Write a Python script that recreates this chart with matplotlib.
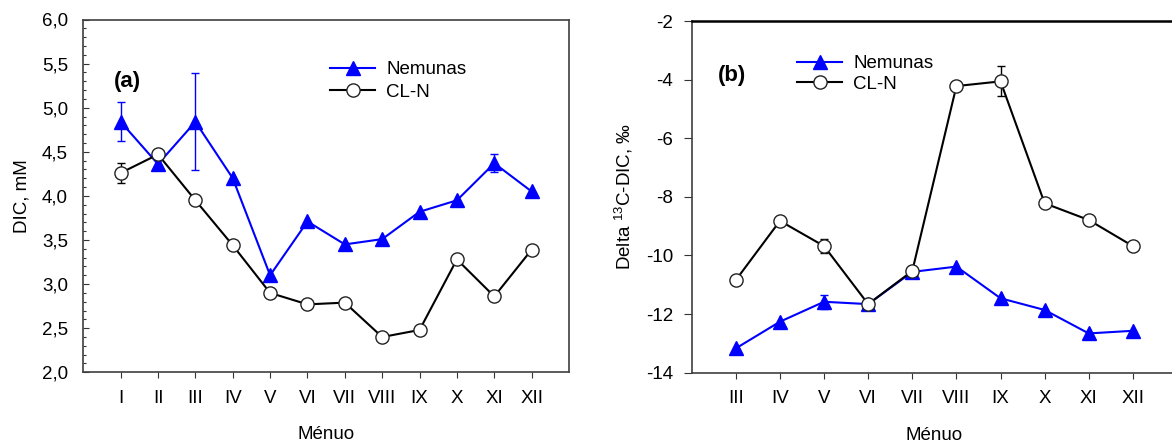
import matplotlib
matplotlib.use("Agg")
import matplotlib.pyplot as plt
from matplotlib.ticker import MultipleLocator, FixedLocator
from matplotlib.lines import Line2D

plt.rcParams['font.family'] = ['Liberation Sans', 'DejaVu Sans']
plt.rcParams['mathtext.fontset'] = 'custom'
plt.rcParams['mathtext.rm'] = 'Liberation Sans'
plt.rcParams['mathtext.it'] = 'Liberation Sans:italic'
plt.rcParams['mathtext.bf'] = 'Liberation Sans:bold'
plt.rcParams['axes.unicode_minus'] = False

# ---------------- data ----------------
roman = ["I", "II", "III", "IV", "V", "VI", "VII", "VIII", "IX", "X", "XI", "XII"]

months_a = list(range(1, 13))
dic_nemunas = [4.84, 4.36, 4.84, 4.20, 3.10, 3.71, 3.45, 3.51, 3.82, 3.95, 4.37, 4.05]
dic_nemunas_err = [0.22, 0.0, 0.55, 0.0, 0.0, 0.0, 0.0, 0.0, 0.0, 0.0, 0.10, 0.0]
dic_cln = [4.26, 4.47, 3.95, 3.44, 2.90, 2.77, 2.79, 2.40, 2.48, 3.28, 2.86, 3.39]
dic_cln_err = [0.11, 0.0, 0.0, 0.0, 0.0, 0.0, 0.0, 0.0, 0.0, 0.0, 0.0, 0.0]

months_b = list(range(3, 13))
d13_nemunas = [-13.17, -12.26, -11.58, -11.66, -10.56, -10.38, -11.46, -11.86, -12.66, -12.57]
d13_nemunas_err = [0.0, 0.0, 0.23, 0.0, 0.0, 0.0, 0.0, 0.0, 0.0, 0.0]
d13_cln = [-10.84, -8.82, -9.68, -11.66, -10.53, -4.22, -4.06, -8.22, -8.79, -9.68]
d13_cln_err = [0.0, 0.0, 0.25, 0.0, 0.0, 0.0, 0.51, 0.0, 0.0, 0.0]

labels = ["Nemunas", "CL-N"]

# ---------------- figure ----------------
W, H = 1172, 443
fig = plt.figure(figsize=(W / 100, H / 100), dpi=100)

def px_axes(l, t, r, b):
    return fig.add_axes([l / W, 1 - b / H, (r - l) / W, (b - t) / H])

FS = 13.5
BLUE = '#0000ff'
NEM_STYLE = dict(color=BLUE, lw=1.5, marker='^', ms=10.5, mfc=BLUE, mec=BLUE)
CLN_STYLE = dict(color='black', lw=1.5, marker='o', ms=9.5, mfc='white',
                 mec='#222222', mew=1.0)

axa = px_axes(83.3, 19.5, 569, 372.3)
axb = px_axes(691.7, 21, 1177, 372.7)


def errs(ax, x, y, e, color, z):
    idx = [i for i, v in enumerate(e) if v > 0]
    ax.errorbar([x[i] for i in idx], [y[i] for i in idx], yerr=[e[i] for i in idx],
                fmt='none', ecolor=color, elinewidth=1.0, capsize=3,
                capthick=1.0, zorder=z)


def draw(ax, x, yn, en, yc, ec):
    errs(ax, x, yn, en, BLUE, 2)
    ax.plot(x, yn, zorder=3, **NEM_STYLE)
    errs(ax, x, yc, ec, 'black', 3.5)
    ax.plot(x, yc, zorder=4, **CLN_STYLE)


def legend(ax, anchor, spacing):
    handles = [Line2D([], [], **NEM_STYLE), Line2D([], [], **CLN_STYLE)]
    ax.legend(handles, labels, loc='upper left', bbox_to_anchor=anchor,
              bbox_transform=fig.transFigure, frameon=False, fontsize=FS,
              handlelength=2.4, handletextpad=0.6, labelspacing=spacing,
              borderpad=0, borderaxespad=0)


# ---------- panel (a) ----------
draw(axa, months_a, dic_nemunas, dic_nemunas_err, dic_cln, dic_cln_err)
axa.set_xlim(0, 13)
axa.set_ylim(2.0, 6.0)
axa.xaxis.set_major_locator(FixedLocator(months_a))
axa.set_xticklabels(roman)
axa.yaxis.set_major_locator(MultipleLocator(0.5))
axa.yaxis.set_minor_locator(MultipleLocator(0.1))
axa.set_yticklabels([f"{v:.1f}".replace('.', ',') for v in axa.get_yticks()])
axa.tick_params(axis='y', which='major', direction='in', length=4, width=0.8,
                labelsize=FS, pad=11, color='#333333')
axa.tick_params(axis='y', which='minor', direction='in', length=2.5, width=0.8,
                color='#333333')
axa.tick_params(axis='x', which='major', direction='out', length=4, width=0.8,
                labelsize=FS, pad=8.5, color='#333333')
for s in axa.spines.values():
    s.set_color('#404040')
    s.set_linewidth(1.2)
axa.set_ylabel('DIC, mM', fontsize=FS, labelpad=8)
axa.set_xlabel('Ménuo', fontsize=FS, labelpad=14)
legend(axa, (330 / W, 1 - 61 / H), 0.3)
fig.text(114 / W, 1 - 82 / H, '(a)', fontsize=16, fontweight='bold',
         ha='left', va='center')

# ---------- panel (b) ----------
draw(axb, months_b, d13_nemunas, d13_nemunas_err, d13_cln, d13_cln_err)
axb.set_xlim(2, 13)
axb.set_ylim(-14, -2)
axb.xaxis.set_major_locator(FixedLocator(months_b))
axb.set_xticklabels(roman[2:])
axb.yaxis.set_major_locator(MultipleLocator(2))
axb.tick_params(axis='y', which='major', direction='out', length=6, width=0.8,
                labelsize=FS, pad=7.5, color='#333333')
axb.tick_params(axis='x', which='major', direction='out', length=4, width=0.8,
                labelsize=FS, pad=8.5, color='#333333')
for k in ('left', 'bottom'):
    axb.spines[k].set_color('#404040')
    axb.spines[k].set_linewidth(1.2)
axb.spines['top'].set_color('black')
axb.spines['top'].set_linewidth(1.8)
axb.spines['right'].set_color('black')
axb.set_ylabel('Delta $^{13}$C-DIC, ‰', fontsize=FS, labelpad=8)
axb.set_xlabel('Ménuo', fontsize=FS, labelpad=14)
legend(axb, (797 / W, 1 - 55 / H), 0.2)
fig.text(718 / W, 1 - 75 / H, '(b)', fontsize=16, fontweight='bold',
         ha='left', va='center')

fig.savefig('out.png', dpi=100)
